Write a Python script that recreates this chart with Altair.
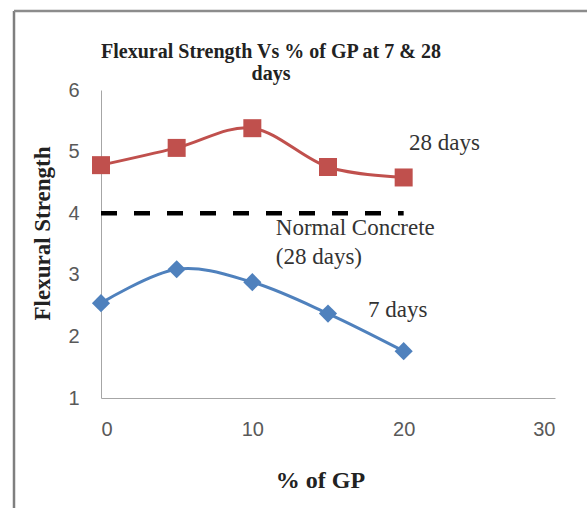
import altair as alt
import pandas as pd

# ---- data ----
gp_percent = [0, 5, 10, 15, 20]
strength_28 = [4.78, 5.06, 5.38, 4.75, 4.58]
strength_7 = [2.54, 3.09, 2.88, 2.37, 1.76]
normal_x = [0, 20]
normal_y = [4.0, 4.0]

ann_text = ["28 days", "Normal Concrete", "(28 days)", "7 days"]
ann_x = [20.35, 11.55, 11.55, 17.65]
ann_y = [5.14, 3.76, 3.29, 2.43]

RED = "#C0504D"
BLUE = "#4F81BD"
SERIF = "Liberation Serif"
SANS = "Liberation Sans"

df28 = pd.DataFrame({"gp": gp_percent, "fs": strength_28})
df7 = pd.DataFrame({"gp": gp_percent, "fs": strength_7})
dfn = pd.DataFrame({"gp": normal_x, "fs": normal_y})
dfa = pd.DataFrame({"gp": ann_x, "fs": ann_y, "label": ann_text})

xscale = alt.Scale(domain=[0, 30], nice=False)
yscale = alt.Scale(domain=[1, 6], nice=False)

xax = alt.Axis(
    values=[0, 10, 20, 30], grid=False, ticks=False, domainColor="#A6A6A6",
    labelFont=SANS, labelFontSize=20, labelColor="#595959", labelPadding=21,
    title="% of GP", titleFont=SERIF, titleFontSize=24, titleFontWeight="bold",
    titleColor="#222222", titleX=219, titleY=82, titleAlign="center",
    titleBaseline="middle",
)
yax = alt.Axis(
    values=[1, 2, 3, 4, 5, 6], grid=False, ticks=False, domainColor="#A6A6A6",
    labelFont=SANS, labelFontSize=20, labelColor="#595959", labelPadding=22,
    title="Flexural Strength", titleFont=SERIF, titleFontSize=23,
    titleFontWeight="bold", titleColor="#222222", titleX=-59, titleY=143,
    titleAlign="center", titleBaseline="middle",
)

x = alt.X("gp:Q", scale=xscale, axis=xax)
y = alt.Y("fs:Q", scale=yscale, axis=yax)

line28 = alt.Chart(df28).mark_line(
    color=RED, strokeWidth=3, interpolate="cardinal"
).encode(x=x, y=y)
pts28 = alt.Chart(df28).mark_point(
    shape="square", filled=True, color=RED, size=324, opacity=1
).encode(x=x, y=y)

line7 = alt.Chart(df7).mark_line(
    color=BLUE, strokeWidth=3, interpolate="cardinal"
).encode(x=x, y=y)
pts7 = alt.Chart(df7).mark_point(
    shape="diamond", filled=True, color=BLUE, size=330, opacity=1
).encode(x=x, y=y)

normal = alt.Chart(dfn).mark_line(
    color="#000000", strokeWidth=4.5, strokeDash=[16, 17]
).encode(x=x, y=y)

labels = alt.Chart(dfa).mark_text(
    align="left", baseline="middle", font=SERIF, fontSize=23, color="#333333"
).encode(x=x, y=y, text="label:N")

# decorative outer frame (left and top border as in the reference picture)
frame_left = alt.Chart(pd.DataFrame({"k": [0]})).mark_rule(
    color="#7F7F7F", strokeWidth=2.5
).encode(x=alt.value(-87), y=alt.value(-79), y2=alt.value(420))
frame_top = alt.Chart(pd.DataFrame({"k": [0]})).mark_rule(
    color="#8C8C8C", strokeWidth=2.5
).encode(x=alt.value(-87), x2=alt.value(490), y=alt.value(-79))

chart = alt.layer(
    frame_left, frame_top, normal, line28, line7, pts28, pts7, labels
).properties(
    width=454,
    height=308,
    background="#FFFFFF",
    title=alt.TitleParams(
        text=["Flexural Strength Vs % of GP at 7 & 28", "days"],
        font=SERIF, fontSize=20, fontWeight="bold", color="#222222",
        anchor="middle", frame="group", dx=-57, offset=0, dy=74, lineHeight=22,
    ),
    padding={"left": 101, "top": 90, "right": 32, "bottom": 110},
    autosize=alt.AutoSizeParams(type="none"),
).configure_view(stroke=None)

chart.save("out.html", embed_options={"renderer": "svg", "actions": False})
